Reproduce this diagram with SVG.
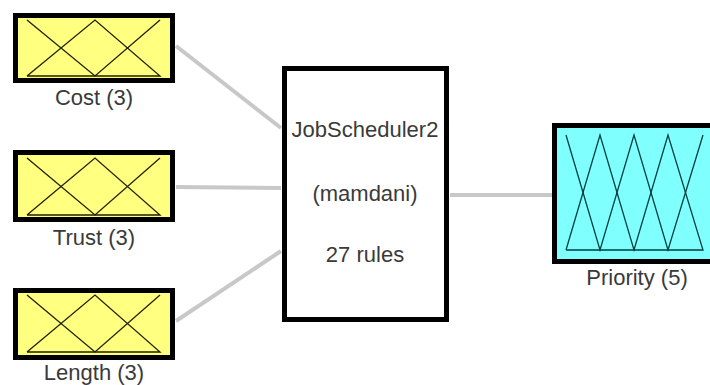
<svg xmlns="http://www.w3.org/2000/svg" width="710" height="385" viewBox="0 0 710 385">
<style>
.lbl{font-family:"Liberation Sans",Arial,sans-serif;font-size:22px;fill:#3a3a3a;text-anchor:middle}
.in{fill:#ffff80;stroke:#000;stroke-width:5}
.out{fill:#80ffff;stroke:#000;stroke-width:5}
.mf{fill:none;stroke:#202000;stroke-width:1.3}
.mfo{fill:none;stroke:#004040;stroke-width:1.3}
.con{stroke:#c8c8c8;stroke-width:4;fill:none}
</style>
<rect width="710" height="385" fill="#fff"/>
<g id="connectors">
<line class="con" x1="176" y1="46" x2="281" y2="128"/>
<line class="con" x1="176" y1="187" x2="281" y2="188"/>
<line class="con" x1="176" y1="321" x2="281" y2="251"/>
<line class="con" x1="450" y1="195" x2="552" y2="195"/>
</g>
<g id="cost">
<rect class="in" x="15.5" y="15.5" width="157" height="65"/>
<polyline class="mf" points="27,20 95,76 160,20"/>
<polyline class="mf" points="27,76 95,20 160,76 27,76"/>
<text class="lbl" x="94" y="105">Cost (3)</text>
</g>
<g id="trust">
<rect class="in" x="15.5" y="152.5" width="157" height="67"/>
<polyline class="mf" points="27,158 95,215 160,158"/>
<polyline class="mf" points="27,215 95,158 160,215 27,215"/>
<text class="lbl" x="94" y="245">Trust (3)</text>
</g>
<g id="length">
<rect class="in" x="15.5" y="290.5" width="157" height="67"/>
<polyline class="mf" points="27,295 95,352 160,295"/>
<polyline class="mf" points="27,352 95,295 160,352 27,352"/>
<text class="lbl" x="94" y="380">Length (3)</text>
</g>
<g id="jobscheduler">
<rect x="284.5" y="68.5" width="162" height="251" fill="#fff" stroke="#000" stroke-width="5"/>
<text class="lbl" x="365" y="137">JobScheduler2</text>
<text class="lbl" x="365" y="201">(mamdani)</text>
<text class="lbl" x="365" y="262">27 rules</text>
</g>
<g id="priority">
<rect class="out" x="554.5" y="125.5" width="200" height="136"/>
<polyline class="mfo" points="566,135 600,250 634,135 668,250 703,135"/>
<polyline class="mfo" points="566,250 600,135 634,250 668,135 703,250 566,250"/>
<text class="lbl" x="637" y="285">Priority (5)</text>
</g>
</svg>
